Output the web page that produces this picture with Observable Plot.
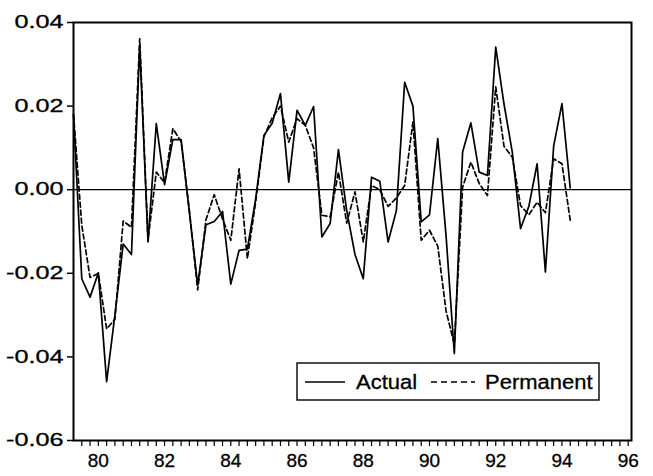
<!DOCTYPE html>
<html><head><meta charset="utf-8">
<script src="https://cdn.jsdelivr.net/npm/d3@7"></script>
<script src="https://cdn.jsdelivr.net/npm/@observablehq/plot@0.6"></script>
<style>body{margin:0;background:#fff}</style>
</head><body><div id="chart"></div>
<script>
// Quarterly observations starting 1979Q2 (x in years of century, 79.25 = 1979Q2)
const startYear = 79.25;
const actual = [
  0.018, -0.0213, -0.0257, -0.0199, -0.0459, -0.030, -0.013, -0.0155, 0.0345, -0.0125,
  0.0158, 0.0012, 0.012, 0.012, -0.0055, -0.0228, -0.0084, -0.0076, -0.0052, -0.0226,
  -0.0145, -0.0142, -0.0022, 0.013, 0.0159, 0.023, 0.0018, 0.019, 0.0154, 0.0199,
  -0.0113, -0.0081, 0.0096, -0.005, -0.0155, -0.0213, 0.003, 0.002, -0.0125, -0.005,
  0.0257, 0.020, -0.0077, -0.006, 0.0122, -0.011, -0.0392, 0.009, 0.016, 0.0042,
  0.0034, 0.0341, 0.0205, 0.009, -0.0093, -0.004, 0.0062, -0.0197, 0.0105, 0.0206,
  0.0004
];
const permanent = [
  0.018, -0.0085, -0.021, -0.020, -0.0333, -0.031, -0.0075, -0.009, 0.0361, -0.012,
  0.0042, 0.0017, 0.0146, 0.0115, -0.005, -0.0240, -0.0072, -0.0012, -0.007, -0.0121,
  0.005, -0.0165, -0.003, 0.0127, 0.0172, 0.020, 0.0114, 0.017, 0.0154, 0.010,
  -0.0061, -0.0065, 0.0042, -0.008, -0.0005, -0.0125, 0.001, 0.000, -0.004, -0.002,
  0.001, 0.0162, -0.0121, -0.0097, -0.0135, -0.029, -0.037, 0.0006, 0.0066, 0.0015,
  -0.0014, 0.0246, 0.0104, 0.0078, -0.0038, -0.006, -0.003, -0.0055, 0.0074, 0.0062,
  -0.0073
];
const yTicks = [-0.06, -0.04, -0.02, 0, 0.02, 0.04];
const xLabels = [80, 82, 84, 86, 88, 90, 92, 94, 96];
const seriesNames = ["Actual", "Permanent"];

const data = actual.map((v, i) => ({t: startYear + i / 4, actual: v, permanent: permanent[i]}));
const quarterTicks = d3.range(79.5, 96.001, 0.25);
const FONT = "'Liberation Sans', Arial, sans-serif";

const chart = Plot.plot({
  width: 653, height: 476,
  marginLeft: 73, marginRight: 22, marginTop: 22, marginBottom: 36,
  style: {fontFamily: FONT, fontSize: "18px", background: "#fff", color: "#000"},
  x: {domain: [79.25, 96.1]},
  y: {domain: [-0.06, 0.04]},
  marks: [
    Plot.ruleY([0], {stroke: "#000", strokeWidth: 1.2}),
    Plot.line(data, {x: "t", y: "actual", stroke: "#000", strokeWidth: 1.7}),
    Plot.line(data, {x: "t", y: "permanent", stroke: "#000", strokeWidth: 1.7, strokeDasharray: "5,3"}),
    Plot.frame({stroke: "#000", strokeWidth: 2}),
    Plot.axisY(yTicks, {tickFormat: d => d.toFixed(2), tickSize: 6, tickPadding: 4, label: null, fontSize: 18, strokeWidth: 1.5}),
    Plot.axisX(quarterTicks, {tickSize: 6, tickFormat: () => "", label: null, strokeWidth: 1.2}),
    Plot.axisX(xLabels, {tickSize: 0, tickPadding: 13, tickFormat: d => String(d), label: null, fontSize: 19})
  ]
});
document.getElementById("chart").appendChild(chart);

// Reference text is horizontally wide; stretch the axis labels a little
d3.select(chart).selectAll("g[aria-label='y-axis tick label'] text").each(function() {
  const w = this.getComputedTextLength();
  d3.select(this).attr("textLength", w * 1.4).attr("lengthAdjust", "spacingAndGlyphs");
});
d3.select(chart).selectAll("text").attr("stroke", "#000").attr("stroke-width", 0.3);

// Legend box inside the plot
const svg = d3.select(chart);
const g = svg.append("g").style("font-family", FONT).style("font-size", "20px").attr("text-anchor", "start");
g.append("rect").attr("x", 297).attr("y", 363).attr("width", 302).attr("height", 37)
  .attr("fill", "#fff").attr("stroke", "#000").attr("stroke-width", 1.4);
g.append("line").attr("x1", 305).attr("x2", 345).attr("y1", 382).attr("y2", 382).attr("stroke", "#000").attr("stroke-width", 1.5);
g.append("line").attr("x1", 431).attr("x2", 475).attr("y1", 382).attr("y2", 382).attr("stroke", "#000").attr("stroke-width", 1.5).attr("stroke-dasharray", "6,4");
[[seriesNames[0], 356], [seriesNames[1], 485]].forEach(([label, x]) => {
  const t = g.append("text").attr("x", x).attr("y", 389).attr("stroke", "#000").attr("stroke-width", 0.3).text(label);
  t.attr("textLength", t.node().getComputedTextLength() * 1.1).attr("lengthAdjust", "spacingAndGlyphs");
});
</script>
</body></html>
